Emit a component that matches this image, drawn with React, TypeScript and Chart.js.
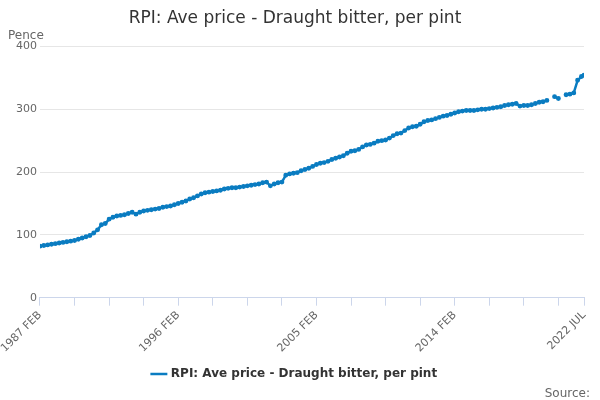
import React, { useEffect, useRef } from "react";
import { Chart, registerables } from "chart.js";
Chart.register(...registerables);

const years = [1987,1988,1989,1990,1991,1992,1993,1994,1995,1996,1997,1998,1999,2000,2001,2002,2003,2004,2005,2006,2007,2008,2009,2010,2011,2012,2013,2014,2015,2016,2017,2018,2019,2020,2021,2022];
// quarterly values: Feb, May, Aug, Nov (pence)
const quarterly: (number | null)[][] = [
  [82,83,84,85],[86,87,88,89],[90,91,93,95],[97,99,103,108],[116,118,125,128],
  [130,131,132,134],[136,133,136,138],[139,140,141,142],[144,145,146,148],[150,152,154,157],
  [159,162,165,167],[168,169,170,171],[173,174,175,175],[176,177,178,179],[180,181,183,184],
  [178,181,183,184],[195,197,198,199],[202,204,206,209],[212,214,215,217],[220,222,224,226],
  [230,233,234,236],[240,243,244,246],[249,250,251,254],[258,261,262,266],[270,272,273,276],
  [280,282,283,285],[287,289,290,292],[294,296,297,298],[298,298,299,300],[300,301,302,303],
  [304,306,307,308],[309,305,306,306],[307,309,311,312],[314,null,320,317],[null,323,324,326],
  [346,352,354,null],
];
const quarterMonths = [0, 3, 6, 9]; // offsets from Feb
const tickLabels: Record<number, string> = { 0: "1987 FEB", 108: "1996 FEB", 216: "2005 FEB", 324: "2014 FEB", 425: "2022 JUL" };
const seriesName = "RPI: Ave price - Draught bitter, per pint";

export default function App() {
  const ref = useRef<HTMLCanvasElement>(null);
  useEffect(() => {
    const pts: { x: number; y: number | null }[] = [];
    years.forEach((yr, i) => {
      quarterly[i].forEach((v, q) => {
        let x = (yr - 1987) * 12 + quarterMonths[q];
        if (yr === 2022 && q === 2) x = 425;
        if (x <= 425) pts.push({ x, y: v });
      });
    });
    const blue = "#0a7cc1";
    const chart = new Chart(ref.current!, {
      type: "line",
      data: { datasets: [{ label: seriesName, data: pts as any, borderColor: blue, backgroundColor: blue, borderWidth: 2.5, pointRadius: 1.2, pointHoverRadius: 3, spanGaps: false, tension: 0 }] },
      options: {
        animation: false, responsive: false,
        layout: { padding: { left: 6, right: 16, top: 0, bottom: 10 } },
        plugins: {
          title: { display: true, text: seriesName, color: "#333", font: { family: "DejaVu Sans", size: 17, weight: "normal" }, padding: { top: 8, bottom: 18 } },
          legend: { position: "bottom", labels: { usePointStyle: true, pointStyle: "line", color: "#333", font: { family: "DejaVu Sans", size: 12, weight: "bold" }, boxWidth: 20 } },
          tooltip: { enabled: false },
        },
        scales: {
          x: {
            type: "linear", min: 0, max: 425,
            afterBuildTicks: (ax: any) => {
              const t = [];
              for (let v = 0; v <= 405; v += 27) t.push({ value: v });
              t.push({ value: 425 });
              ax.ticks = t;
            },
            ticks: { autoSkip: false, maxRotation: 45, minRotation: 45, color: "#666", font: { family: "DejaVu Sans", size: 11 }, callback: (v: any) => tickLabels[v] ?? "" },
            grid: { drawOnChartArea: false, color: "#ccd6eb", tickLength: 8 },
            border: { color: "#ccd6eb" },
          },
          y: {
            min: 0, max: 400,
            ticks: { stepSize: 100, color: "#666", font: { family: "DejaVu Sans", size: 11 } },
            grid: { color: "#e6e6e6", drawTicks: false },
            border: { display: false },
            title: { display: false },
          },
        },
      },
      plugins: [{
        id: "extras",
        afterDraw: (c: any) => {
          const ctx = c.ctx;
          ctx.save();
          ctx.font = "12px DejaVu Sans";
          ctx.fillStyle = "#666";
          ctx.textAlign = "left";
          ctx.fillText("Pence", 8, 36);
          ctx.textAlign = "right";
          ctx.fillText("Source:", 590, 394);
          ctx.restore();
        },
      }],
    });
    return () => chart.destroy();
  }, []);
  return <canvas ref={ref} width={600} height={400} style={{ position: "absolute", left: 0, top: 0 }} />;
}
